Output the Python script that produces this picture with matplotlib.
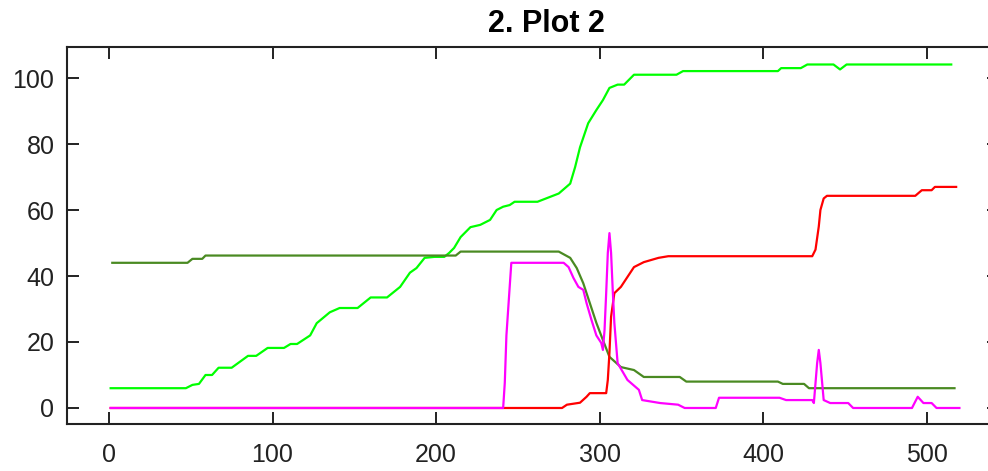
import matplotlib
matplotlib.use('Agg')
import matplotlib.pyplot as plt

plt.rcParams['font.family'] = ['Liberation Sans', 'DejaVu Sans']

# light green curve (x, y vertices)
lime_x = [1, 47, 51, 55, 59, 63, 67, 75, 80, 85, 90, 97, 107, 111, 115, 123, 127, 135, 141,
          152, 160, 170, 178, 184, 188, 193, 199, 205, 208, 211, 215, 221, 227, 233, 237, 241,
          245, 248, 254, 262, 275, 282, 285, 288, 293, 298, 302, 306, 311, 315, 321, 327, 347,
          351, 409, 411, 423, 427, 443, 447, 451, 515]
lime_y = [6, 6, 7, 7.3, 10, 10, 12.2, 12.2, 14, 15.8, 15.8, 18.2, 18.2, 19.4, 19.4, 22, 25.7, 29,
          30.3, 30.3, 33.5, 33.5, 36.7, 41, 42.4, 45.5, 45.8, 45.8, 47, 48.5, 51.8, 54.8, 55.5, 57,
          60, 61, 61.5, 62.5, 62.5, 62.5, 65, 68, 73, 79, 86.3, 90.3, 93.3, 97, 98, 98, 101, 101, 101,
          102.1, 102.1, 103, 103, 104.1, 104.1, 102.6, 104.1, 104.1]

# dark green curve
olive_x = [2, 48, 51, 57, 59, 212, 215, 275, 282, 286, 290, 294, 298, 302, 306, 313, 321, 327,
           349, 353, 409, 412, 425, 428, 517]
olive_y = [44, 44, 45.2, 45.2, 46.2, 46.2, 47.4, 47.4, 45.5, 42.4, 37.8, 31.8, 25.8, 20.6, 15.5,
           12.4, 11.5, 9.4, 9.4, 8, 8, 7.3, 7.3, 6, 6]

# red curve
red_x = [1, 277, 280, 288, 292, 294, 304, 305, 306, 307, 309, 313, 317, 321, 327, 336, 342,
         430, 432, 434, 435, 437, 439, 493, 497, 503, 505, 518]
red_y = [0, 0, 1, 1.6, 3.4, 4.5, 4.5, 8.5, 16.7, 27.7, 34.8, 36.7, 39.7, 42.7, 44.2, 45.5, 46,
         46, 48, 55, 60, 63.5, 64.3, 64.3, 66, 66, 67, 67]

# magenta curve
mag_x = [1, 241, 242, 243, 245, 246, 278, 281, 284, 287, 290, 292, 295, 298, 301, 302, 303,
         304, 305, 306, 307, 308, 309, 311, 317, 324, 326, 337, 348, 352, 371, 373, 410, 414,
         430, 431, 433, 434, 435, 437, 441, 452, 455, 491, 494.5, 498, 503, 506, 520]
mag_y = [0, 0, 7.6, 22, 36.7, 44, 44, 42.7, 39.4, 36.7, 35.8, 31.8, 26.7, 22, 19.7, 17.6, 23.6,
         34.8, 47, 53, 47, 35.8, 25.8, 13.6, 8.5, 5.5, 2.4, 1.5, 1, 0, 0, 3.1, 3.1, 2.4, 2.4, 1.5,
         13.6, 17.6, 13.6, 2.4, 1.5, 1.5, 0, 0, 3.4, 1.5, 1.5, 0, 0]

x_ticks = [0, 100, 200, 300, 400, 500]
y_ticks = [0, 20, 40, 60, 80, 100]

fig = plt.figure(figsize=(9.88, 4.71), dpi=100)
ax = fig.add_axes([0.0678, 0.0998, 0.943, 0.8004])

ax.plot(lime_x, lime_y, color='#00ff00', lw=1.6)
ax.plot(olive_x, olive_y, color='#4a8a22', lw=1.6)
ax.plot(red_x, red_y, color='#ff0000', lw=1.6)
ax.plot(mag_x, mag_y, color='#ff00ff', lw=1.6)

ax.set_xlim(-25.7, 544)
ax.set_ylim(-4.85, 109.4)
ax.set_xticks(x_ticks)
ax.set_yticks(y_ticks)
ax.tick_params(direction='in', length=8.5, width=1.4, colors='#222222', labelsize=18,
               top=True, right=True)
ax.tick_params(axis='x', pad=14)
ax.tick_params(axis='y', pad=9)
for s in ax.spines.values():
    s.set_linewidth(1.5)
    s.set_color('#222222')

fig.text(0.553, 0.949, '2. Plot 2', ha='center', va='center', fontsize=22, fontweight='bold')

fig.savefig('out.png', dpi=100)
